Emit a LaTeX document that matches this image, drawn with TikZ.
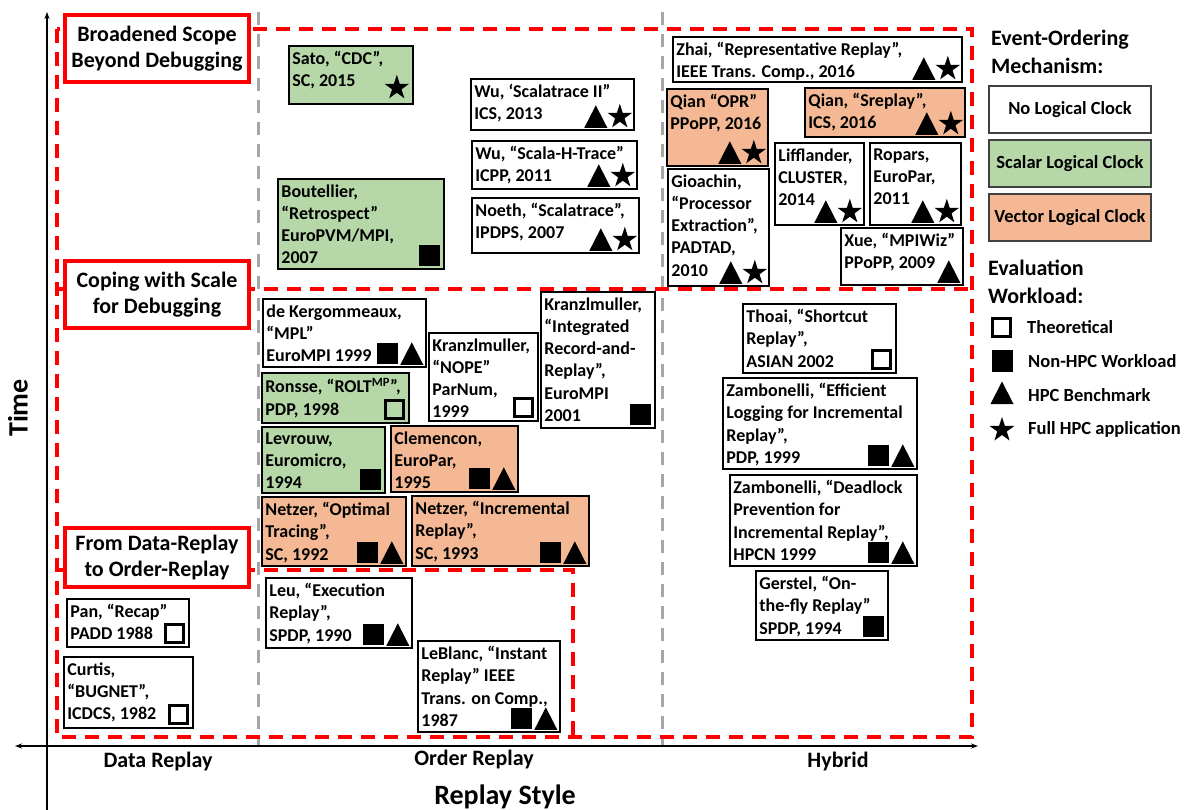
\documentclass[tikz,border=0pt]{standalone}
\usepackage{fontspec}
\setmainfont{Carlito}
\usetikzlibrary{fit,arrows.meta}
\definecolor{pgreen}{HTML}{B6D7A8}
\definecolor{porange}{HTML}{F4B994}
\definecolor{dgray}{HTML}{A6A6A6}
\definecolor{lbord}{HTML}{404040}
\tikzset{
 box/.style={draw=black, line width=1.6pt, inner sep=0pt},
 lbox/.style={draw=lbord, line width=1.2pt, inner sep=0pt},
 ptext/.style={font=\bfseries\fontsize{18}{22.3}\selectfont, align=left, inner sep=0pt, anchor=north west},
 ltext/.style={font=\bfseries\fontsize{18.5}{22}\selectfont, inner sep=0pt},
 head/.style={font=\bfseries\fontsize{22}{28}\selectfont, align=left, inner sep=0pt, anchor=north west},
 redbox/.style={draw=red, line width=3.5pt, fill=white, inner sep=0pt},
 redtext/.style={font=\bfseries\fontsize{22}{26.5}\selectfont, align=center, inner sep=0pt},
 reddash/.style={draw=red, line width=4pt, dash pattern=on 14pt off 9pt},
 graydash/.style={draw=dgray, line width=3pt, dash pattern=on 13pt off 9pt},
 axis/.style={draw=black, line width=1.2pt},
 axlabel/.style={font=\bfseries\fontsize{22}{26}\selectfont, inner sep=0pt},
 biglabel/.style={font=\bfseries\fontsize{28}{32}\selectfont, inner sep=0pt},
 fsq/.pic={\fill[black] (-10.5,-10.5) rectangle (10.5,10.5);},
 osq/.pic={\draw[black, line width=3pt] (-9,-9) rectangle (9,9);},
 tri/.pic={\fill[black] (-11.5,11) -- (11.5,11) -- (0,-11.5) -- cycle;},
 str/.pic={\fill[black] (0,-13) -- (2.92,-4.02) -- (12.36,-4.02) -- (4.73,1.54) -- (7.64,10.52) -- (0,4.97) -- (-7.64,10.52) -- (-4.73,1.54) -- (-12.36,-4.02) -- (-2.92,-4.02) -- cycle;},
}
\newcommand\paper[7]{%
 \node[box, fill=#6, fit={(#2,#3)(#4,#5)}] (#1) {};
 \node[ptext] (#1t) at ([shift={(4,6)}]#1.north west) {#7};
}
\newcommand\symA[2]{\pic at ([shift={(-15,-14)}]#1.south east) {#2};}
\newcommand\symB[3]{\pic at ([shift={(-39,-14)}]#1.south east) {#2};\pic at ([shift={(-15,-14)}]#1.south east) {#3};}
\begin{document}
\begin{tikzpicture}[x=1pt,y=-1pt]
\useasboundingbox (0,0) rectangle (1189,810);
\fill[white] (0,0) rectangle (1189,810);
% gray dashed separators
\draw[graydash] (258,12) -- (258,746);
\draw[graydash] (662,12) -- (662,746);
% red dashed regions
\draw[reddash] (57,29) rectangle (972,737);
\draw[reddash] (57,289) -- (972,289);
\draw[reddash] (57,570) -- (573,570) -- (573,737);
% axes
\coordinate (yb) at (47,810);
\coordinate (yt) at (47,12);
\coordinate (xl) at (15,746);
\coordinate (xr) at (978,746);
\draw[axis, -{Stealth[length=7pt,width=5pt]}] (yb) -- (yt);
\draw[axis, {Stealth[length=7pt,width=5pt]}-{Stealth[length=7pt,width=5pt]}] (xl) -- (xr);
\node[axlabel] (ldata) at (158,762) {Data Replay};
\node[axlabel] (lorder) at (474,760) {Order Replay};
\node[axlabel] (lhyb) at (838,762) {Hybrid};
\node[biglabel] (lstyle) at (505,797) {Replay Style};
\node[biglabel, rotate=90] (ltime) at (18,408) {Time};
% red era boxes
\node[redbox, fit={(65,15)(249,82)}] (era1) {};
\node[redtext] (era1t) at (era1.center) {Broadened Scope\\Beyond Debugging};
\node[redbox, fit={(65,261)(249,328)}] (era2) {};
\node[redtext] (era2t) at (era2.center) {Coping with Scale\\for Debugging};
\node[redbox, fit={(65,528)(249,587)}] (era3) {};
\node[redtext] (era3t) at (era3.center) {From Data-Replay\\to Order-Replay};
% papers: order replay, top
\paper{sato}{289}{46}{413}{104}{pgreen}{Sato, “CDC”,\\SC, 2015}
\pic at ([shift={(-17,-17)}]sato.south east) {str};
\paper{bout}{278}{179}{444}{269}{pgreen}{Boutellier,\\“Retrospect”\\EuroPVM/MPI,\\2007}
\symA{bout}{fsq}
\paper{wu2}{471}{79}{634}{130}{white}{Wu, ‘Scalatrace II”\\ICS, 2013}
\symB{wu2}{tri}{str}
\paper{wuh}{472}{141}{637}{189}{white}{Wu, “Scala-H-Trace”\\ICPP, 2011}
\symB{wuh}{tri}{str}
\paper{noeth}{472}{198}{639}{253}{white}{Noeth, “Scalatrace”,\\IPDPS, 2007}
\symB{noeth}{tri}{str}
% hybrid, top
\paper{zhai}{673}{37}{962}{82}{white}{Zhai, “Representative Replay”,\\IEEE Trans. Comp., 2016}
\symB{zhai}{tri}{str}
\paper{qopr}{667}{89}{768}{166}{porange}{Qian “OPR”\\PPoPP, 2016}
\symB{qopr}{tri}{str}
\paper{qsre}{805}{88}{965}{137}{porange}{Qian, “Sreplay”,\\ICS, 2016}
\symB{qsre}{tri}{str}
\paper{gioa}{668}{169}{769}{286}{white}{Gioachin,\\“Processor\\Extraction”,\\PADTAD,\\2010}
\symB{gioa}{tri}{str}
\paper{liff}{775}{143}{864}{225}{white}{Lifflander,\\CLUSTER,\\2014}
\symB{liff}{tri}{str}
\paper{ropars}{870}{143}{961}{225}{white}{Ropars,\\EuroPar,\\2011}
\symB{ropars}{tri}{str}
\paper{xue}{841}{228}{963}{285}{white}{Xue, “MPIWiz”\\PPoPP, 2009}
\symA{xue}{tri}
% order replay, middle
\paper{dekerg}{263}{299}{426}{367}{white}{de Kergommeaux,\\“MPL”\\EuroMPI 1999}
\symB{dekerg}{fsq}{tri}
\paper{ronsse}{262}{373}{409}{423}{pgreen}{Ronsse, “ROLT\textsuperscript{MP}”,\\PDP, 1998}
\symA{ronsse}{osq}
\paper{knope}{429}{333}{538}{421}{white}{Kranzlmuller,\\“NOPE”\\ParNum,\\1999}
\symA{knope}{osq}
\paper{kint}{541}{292}{655}{428}{white}{Kranzlmuller,\\“Integrated\\Record-and-\\Replay”,\\EuroMPI\\2001}
\symA{kint}{fsq}
\paper{levr}{262}{427}{385}{493}{pgreen}{Levrouw,\\Euromicro,\\1994}
\symA{levr}{fsq}
\paper{clem}{391}{426}{518}{492}{porange}{Clemencon,\\EuroPar,\\1995}
\symB{clem}{fsq}{tri}
\paper{netzo}{262}{497}{406}{566}{porange}{Netzer, “Optimal\\Tracing”,\\SC, 1992}
\symB{netzo}{fsq}{tri}
\paper{netzi}{412}{496}{589}{566}{porange}{Netzer, “Incremental\\Replay”,\\SC, 1993}
\symB{netzi}{fsq}{tri}
% hybrid, middle
\paper{thoai}{743}{304}{896}{373}{white}{Thoai, “Shortcut\\Replay”,\\ASIAN 2002}
\symA{thoai}{osq}
\paper{zambe}{723}{378}{917}{469}{white}{Zambonelli, “Efficient\\Logging for Incremental\\Replay”,\\PDP, 1999}
\symB{zambe}{fsq}{tri}
\paper{zambd}{730}{475}{917}{566}{white}{Zambonelli, “Deadlock\\Prevention for\\Incremental Replay”,\\HPCN 1999}
\symB{zambd}{fsq}{tri}
\paper{gerst}{756}{571}{888}{640}{white}{Gerstel, “On-\\the-fly Replay”\\SPDP, 1994}
\symA{gerst}{fsq}
% bottom
\paper{pan}{67}{599}{189}{647}{white}{Pan, “Recap”\\PADD 1988}
\symA{pan}{osq}
\paper{curtis}{64}{657}{193}{728}{white}{Curtis,\\“BUGNET”,\\ICDCS, 1982}
\symA{curtis}{osq}
\paper{leu}{266}{578}{412}{648}{white}{Leu,  “Execution\\Replay”,\\SPDP, 1990}
\symB{leu}{fsq}{tri}
\paper{lebl}{418}{641}{560}{732}{white}{LeBlanc, “Instant\\Replay” IEEE\\Trans. on Comp.,\\1987}
\symB{lebl}{fsq}{tri}
% legend
\node[head] (hev) at (991,30) {Event-Ordering\\Mechanism:};
\node[lbox, fill=white, fit={(989,86)(1151,133)}] (lnone) {};
\node[ltext] (lnonet) at (lnone.center) {No Logical Clock};
\node[lbox, fill=pgreen, fit={(989,140)(1151,187)}] (lscal) {};
\node[ltext] (lscalt) at (lscal.center) {Scalar Logical Clock};
\node[lbox, fill=porange, fit={(989,194)(1151,241)}] (lvec) {};
\node[ltext] (lvect) at (lvec.center) {Vector Logical Clock};
\node[head] (hwl) at (988,260) {Evaluation\\Workload:};
\pic at (1001,328) {osq};
\node[ltext, anchor=west] (wth) at (1027,327) {Theoretical};
\pic at (1002,361) {fsq};
\node[ltext, anchor=west] (wnh) at (1028,361) {Non-HPC Workload};
\pic at (1002,393) {tri};
\node[ltext, anchor=west] (whb) at (1028,395) {HPC Benchmark};
\pic at (1002,430) {str};
\node[ltext, anchor=west] (wfa) at (1028,429) {Full HPC application};
\end{tikzpicture}
\end{document}
